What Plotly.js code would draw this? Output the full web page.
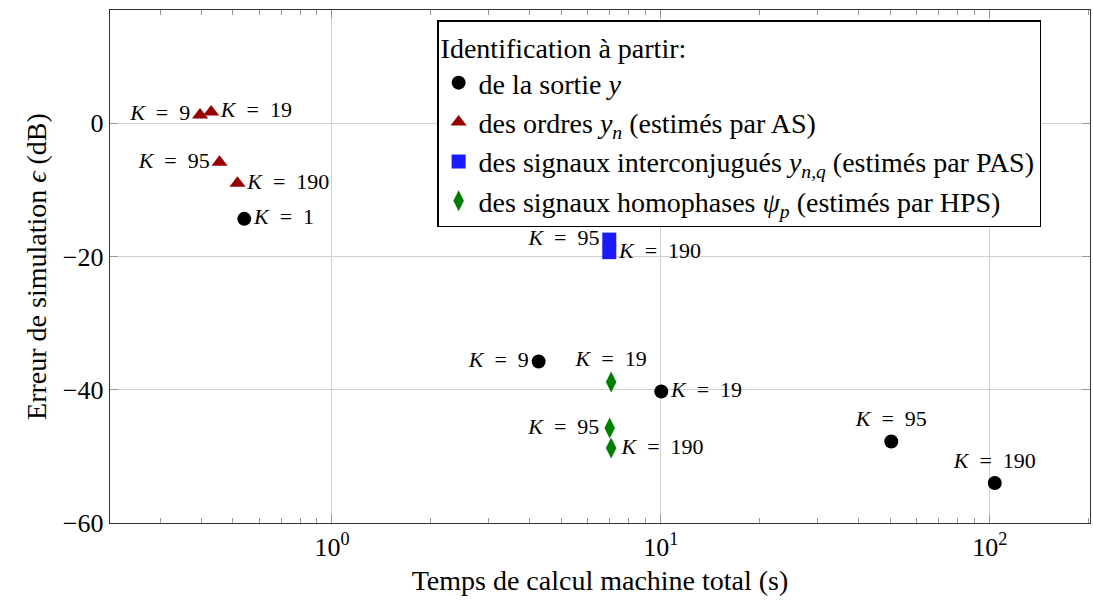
<!DOCTYPE html>
<html>
<head>
<meta charset="utf-8">
<script src="https://cdn.plot.ly/plotly-3.0.1.min.js"></script>
<style>html,body{margin:0;padding:0;background:#fff;}#chart{width:1093px;height:603px;}</style>
</head>
<body>
<div id="chart"></div>
<script>
// Sortie y (black circles)
const sortieK = ['1', '9', '19', '95', '190'];
const sortieX = [0.541, 4.25, 10.03, 50.2, 103.6];
const sortieY = [-14.35, -35.76, -40.26, -47.76, -54.0];
// Ordres y_n (AS, red triangles)
const asK = ['9', '19', '95', '190'];
const asX = [0.397, 0.429, 0.455, 0.516];
const asY = [1.25, 1.7, -5.85, -9.0];
// Signaux interconjugués (PAS, blue squares)
const pasK = ['95', '190'];
const pasX = [6.97, 6.97];
const pasY = [-17.46, -19.35];
// Signaux homophases (HPS, green diamonds)
const hpsK = ['19', '95', '190'];
const hpsX = [7.06, 6.99, 7.06];
const hpsY = [-38.85, -45.75, -48.75];

const sortiePos = ['middle right', 'middle left', 'middle right', 'top center', 'top center'];
const asPos = ['middle left', 'middle right', 'middle left', 'middle right'];
const pasPos = ['middle left', 'middle right'];
const hpsPos = ['top center', 'middle left', 'middle right'];

const serif = 'Liberation Serif, DejaVu Serif, serif';
const lab = k => k.map(v => '<i>K</i>\u2002=\u2002' + v);
const textFont = {family: serif, size: 22, color: '#000'};

const traces = [
  {x: sortieX, y: sortieY, text: lab(sortieK), textposition: sortiePos, mode: 'markers+text', type: 'scatter',
   name: 'de la sortie <i>y</i>', marker: {symbol: 'circle', size: 14, color: '#000'}, textfont: textFont, cliponaxis: false},
  {x: asX, y: asY, text: lab(asK), textposition: asPos, mode: 'markers+text', type: 'scatter',
   name: 'des ordres <i>y</i><sub><i>n</i></sub> (estimés par AS)', marker: {symbol: 'triangle-up', size: 14, color: '#990000'}, textfont: textFont, cliponaxis: false},
  {x: pasX, y: pasY, text: lab(pasK), textposition: pasPos, mode: 'markers+text', type: 'scatter',
   name: 'des signaux interconjugués <i>y</i><sub><i>n,q</i></sub> (estimés par PAS)', marker: {symbol: 'square', size: 14, color: '#1a1aff'}, textfont: textFont, cliponaxis: false},
  {x: hpsX, y: hpsY, text: lab(hpsK), textposition: hpsPos, mode: 'markers+text', type: 'scatter',
   name: 'des signaux homophases <i>ψ</i><sub><i>p</i></sub> (estimés par HPS)', marker: {symbol: 'diamond-tall', size: 15, color: '#008000'}, textfont: textFont, cliponaxis: false}
];

const layout = {
  width: 1093, height: 603,
  margin: {l: 110, r: 3, t: 10, b: 80},
  paper_bgcolor: '#fff', plot_bgcolor: '#fff',
  font: {family: serif, size: 26, color: '#000'},
  showlegend: true,
  legend: {x: 0.334, y: 0.98, xanchor: 'left', yanchor: 'top', bgcolor: '#fff', bordercolor: '#000', borderwidth: 1.3,
    font: {family: serif, size: 28}, title: {text: 'Identification à partir:', font: {family: serif, size: 28}, side: 'top'},
    tracegroupgap: 0, itemwidth: 30},
  xaxis: {type: 'log', range: [-0.675, 2.305], tickvals: [1, 10, 100], ticktext: ['10<sup>0</sup>', '10<sup>1</sup>', '10<sup>2</sup>'],
    showgrid: true, gridcolor: '#d0d0d0', gridwidth: 1, zeroline: false,
    showline: true, linecolor: '#333', linewidth: 1.3, mirror: 'ticks', ticks: 'inside', ticklen: 8, tickcolor: '#999',
    minor: {ticks: 'inside', ticklen: 5, tickcolor: '#999', dtick: 'D1', showgrid: false},
    tickfont: {family: serif, size: 26},
    title: {text: 'Temps de calcul machine total (s)', font: {family: serif, size: 28}, standoff: 10}},
  yaxis: {range: [-60, 17], tickvals: [-60, -40, -20, 0],
    showgrid: true, gridcolor: '#d0d0d0', gridwidth: 1, zeroline: false,
    showline: true, linecolor: '#333', linewidth: 1.3, mirror: 'ticks', ticks: 'inside', ticklen: 8, tickcolor: '#999',
    tickfont: {family: serif, size: 26},
    title: {text: 'Erreur de simulation <i>ϵ</i> (dB)', font: {family: serif, size: 28}, standoff: 8}}
};

Plotly.newPlot('chart', traces, layout, {displayModeBar: false, staticPlot: true});
</script>
</body>
</html>
